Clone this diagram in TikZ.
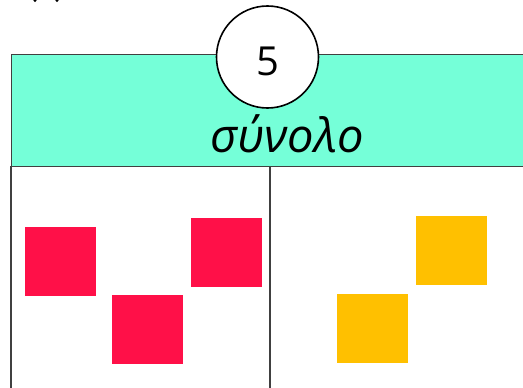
\documentclass[tikz,border=0pt]{standalone}
\usepackage{fontspec}
\setmainfont{Open Sans}
\definecolor{band}{HTML}{75FFD8}
\definecolor{edge}{HTML}{404040}
\definecolor{redsq}{HTML}{FF1048}
\definecolor{yelsq}{HTML}{FFC000}
\tikzset{
  sq/.style={minimum width=71pt, minimum height=69pt, inner sep=0pt, anchor=north west},
  redbox/.style={sq, fill=redsq},
  yelbox/.style={sq, fill=yelsq},
  rule/.style={draw=edge, line width=1.2pt}
}
\begin{document}
\begin{tikzpicture}[x=1pt,y=-1pt]
\useasboundingbox (0,0) rectangle (523,388);
\clip (0,0) rectangle (523,388);
\fill[black] (35,0.5) circle (1.6) (57,0.5) circle (1.6);
\node[fill=band, rule, minimum width=530pt, minimum height=112pt, inner sep=0pt, anchor=north west] (band) at (11,54) {};
\node[font=\fontsize{47}{50}\selectfont\itshape, anchor=base, inner sep=0pt] (title) at (287,152) {σύνολο};
\coordinate (lt) at (11,166);
\coordinate (lb) at (11,395);
\coordinate (mt) at (270,166);
\coordinate (mb) at (270,395);
\draw[rule] (lt) -- (lb);
\draw[rule] (mt) -- (mb);
\node[circle, draw=black, line width=1.6pt, fill=white, minimum size=102pt, inner sep=0pt] (num) at (267.5,57) {};
\node[font=\fontsize{40}{44}\selectfont, anchor=base, inner sep=0pt] (numtext) at (num.center) [yshift=-18pt] {5};
\node[redbox] (r1) at (25,227) {};
\node[redbox] (r2) at (112,295) {};
\node[redbox] (r3) at (191,218) {};
\node[yelbox] (y1) at (416,216) {};
\node[yelbox] (y2) at (337,294) {};
\end{tikzpicture}
\end{document}
